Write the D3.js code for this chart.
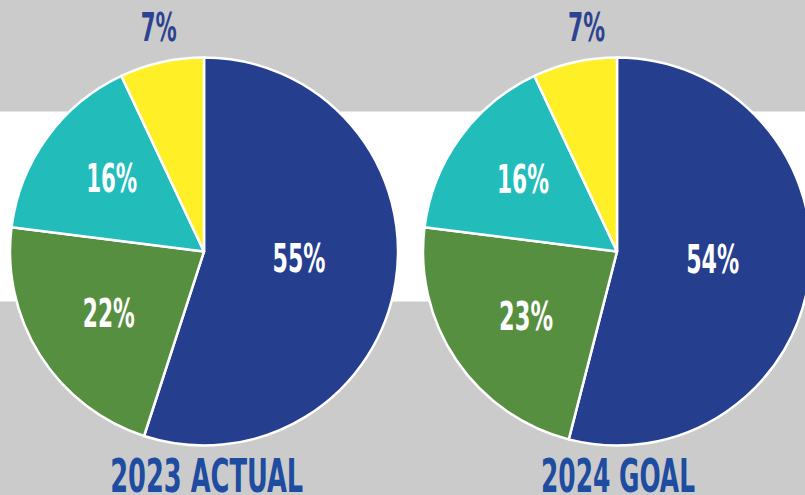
<!DOCTYPE html>
<html>
<head>
<meta charset="utf-8">
<script src="https://cdn.jsdelivr.net/npm/d3@7"></script>
<style>
  html, body { margin: 0; padding: 0; background: #cbcbcb; }
  svg { display: block; }
  text { font-family: "Liberation Sans Narrow", "DejaVu Sans Condensed", "Liberation Sans", sans-serif; font-weight: bold; }
</style>
</head>
<body>
<svg id="chart" width="805" height="495"></svg>
<script>
// ---- data ----
const categories = ["Blue", "Green", "Teal", "Yellow"];
const actual2023 = [55, 22, 16, 7];
const goal2024 = [54, 23, 16, 7];
const chartTitles = ["2023 ACTUAL", "2024 GOAL"];

// ---- styles / layout ----
const colors = ["#253e8d", "#578f40", "#22bdbb", "#ffef27"];
const labelColors = ["#ffffff", "#ffffff", "#ffffff", "#2c4392"];
const W = 805, H = 495;
const radius = 194;
const centers = [[204, 251.5], [617, 251.5]];
// label centres relative to pie centre (x) and baseline (y)
const labelOffsets = [
  [[95, 20], [-95.2, 75.2], [-92.3, -59.2], [-45.3, -210.5]],
  [[95.7, 21.2], [-91, 78.5], [-94, -58.5], [-30.5, -210.5]]
];
const labelWidths = [
  [53, 52, 51, 36],
  [53, 54, 52, 37]
];
const titleWidths = [193, 154];
const titleX = [206.7, 618];

const svg = d3.select("#chart");

// background bands
svg.append("rect").attr("x", 0).attr("y", 0).attr("width", W).attr("height", H).attr("fill", "#cbcbcb");
svg.append("rect").attr("x", 0).attr("y", 111.5).attr("width", W).attr("height", 190).attr("fill", "#ffffff");

const pie = d3.pie().sort(null).value(d => d);
const arc = d3.arc().innerRadius(0).outerRadius(radius);

[actual2023, goal2024].forEach((series, ci) => {
  const g = svg.append("g").attr("transform", `translate(${centers[ci][0]},${centers[ci][1]})`);
  const arcs = pie(series);
  g.selectAll("path.slice")
    .data(arcs)
    .join("path")
    .attr("class", "slice")
    .attr("d", arc)
    .attr("fill", (d, i) => colors[i])
    .attr("stroke", "#ffffff")
    .attr("stroke-width", 2.5)
    .attr("stroke-linejoin", "round");

  g.selectAll("text.lbl")
    .data(arcs)
    .join("text")
    .attr("class", "lbl")
    .attr("x", (d, i) => labelOffsets[ci][i][0])
    .attr("y", (d, i) => labelOffsets[ci][i][1])
    .attr("text-anchor", "middle")
    .attr("font-size", 39)
    .attr("fill", (d, i) => labelColors[i])
    .attr("textLength", (d, i) => labelWidths[ci][i])
    .attr("lengthAdjust", "spacingAndGlyphs")
    .text(d => d.data + "%");

  svg.append("text")
    .attr("x", titleX[ci])
    .attr("y", 491.5)
    .attr("text-anchor", "middle")
    .attr("font-size", 47)
    .attr("fill", "#1e4ca0")
    .attr("textLength", titleWidths[ci])
    .attr("lengthAdjust", "spacingAndGlyphs")
    .text(chartTitles[ci]);
});
</script>
</body>
</html>
